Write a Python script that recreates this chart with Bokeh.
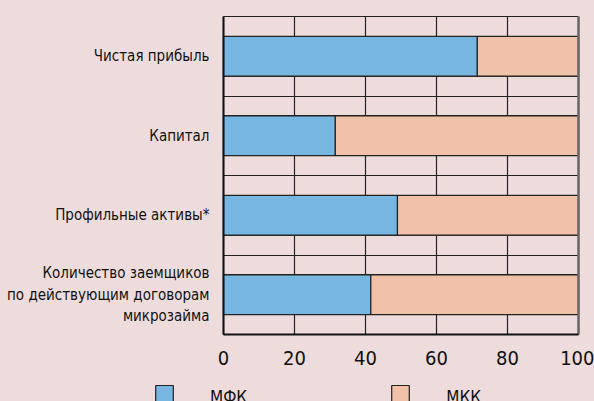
from bokeh.plotting import figure
from bokeh.models import FixedTicker, Legend, LegendItem, Range1d, ColumnDataSource
from bokeh.embed import file_html
from bokeh.resources import INLINE

categories = ["Чистая прибыль", "Капитал", "Профильные активы*",
              "Количество заемщиков\nпо действующим договорам\nмикрозайма"]
mfk = [71.5, 31.5, 49.0, 41.5]
mkk = [28.5, 68.5, 51.0, 58.5]
series_names = ["МФК", "МКК"]
x_ticks = [0, 20, 40, 60, 80, 100]

BG = "#eedcdc"
BLUE = "#78b6e2"
PEACH = "#f0c0a8"
INK = "#222222"
FONT = "DejaVu Sans Condensed"

n = len(categories)
ypos = [4 * (n - 1 - i) + 2 for i in range(n)]
ytop = 4 * n
src = ColumnDataSource(dict(y=ypos, mfk=mfk, mkk=mkk,
                            total=[a + b for a, b in zip(mfk, mkk)],
                            zero=[0] * n))

# frame covers the whole canvas so that labels/legend outside the data area are not clipped
PX_X = 3.55     # pixels per x unit
PX_Y = 19.875   # pixels per y unit
p = figure(width=594, height=401, output_backend="svg", toolbar_location=None,
           x_range=Range1d(-223 / PX_X, 100 + 16 / PX_X),
           y_range=Range1d(-67 / PX_Y, ytop + 1 / PX_Y),
           min_border_left=0, min_border_right=0, min_border_top=15,
           min_border_bottom=0,
           background_fill_color=BG, border_fill_color=BG)
p.outline_line_color = None

r1 = p.hbar(y="y", left="zero", right="mfk", height=2, source=src,
            fill_color=BLUE, line_color=INK, line_width=1.2)
r2 = p.hbar(y="y", left="mfk", right="total", height=2, source=src,
            fill_color=PEACH, line_color=INK, line_width=1.2)

p.xgrid.ticker = FixedTicker(ticks=x_ticks[:-1])
p.ygrid.ticker = FixedTicker(ticks=list(range(ytop + 1)))
for g in (p.xgrid, p.ygrid):
    g.grid_line_color = INK
    g.grid_line_width = 1.2
p.xgrid.cross_bounds = (0, ytop)
p.ygrid.cross_bounds = (x_ticks[0], x_ticks[-1])

# right border
p.segment(x0=[x_ticks[-1]], y0=[0], x1=[x_ticks[-1]], y1=[ytop],
          line_color="#666666", line_width=2.5)

p.xaxis.fixed_location = 0
p.xaxis.bounds = (x_ticks[0], x_ticks[-1])
p.xaxis.ticker = FixedTicker(ticks=x_ticks)
p.xaxis.axis_line_color = "#111111"
p.xaxis.axis_line_width = 2
p.xaxis.major_tick_line_color = None
p.xaxis.minor_tick_line_color = None
p.xaxis.major_label_text_font = FONT
p.xaxis.major_label_text_font_size = "20px"
p.xaxis.major_label_text_color = "#111111"
p.xaxis.major_label_standoff = 10

p.yaxis.fixed_location = 0
p.yaxis.bounds = (0, ytop)
p.yaxis.ticker = FixedTicker(ticks=ypos)
p.yaxis.major_label_overrides = {y: c for y, c in zip(ypos, categories)}
p.yaxis.axis_line_color = "#111111"
p.yaxis.axis_line_width = 2
p.yaxis.major_tick_line_color = None
p.yaxis.minor_tick_line_color = None
p.yaxis.major_label_text_font = FONT
p.yaxis.major_label_text_font_size = "15px"
p.yaxis.major_label_text_color = "#111111"
p.yaxis.major_label_standoff = 8
p.yaxis.major_label_text_align = "right"

legend = Legend(items=[LegendItem(label=series_names[0], renderers=[r1]),
                       LegendItem(label=series_names[1], renderers=[r2])],
                orientation="horizontal", location=(153, -11),
                glyph_width=22, glyph_height=30, label_standoff=35, spacing=142,
                label_text_font=FONT, label_text_font_size="17px",
                label_text_color="#111111",
                background_fill_alpha=0,
                border_line_color=None, padding=0, margin=0)
p.add_layout(legend, "center")

html = file_html(p, INLINE)
html = html.replace("<body>", '<body style="background:%s">' % BG)
open("out.html", "w").write(html)
